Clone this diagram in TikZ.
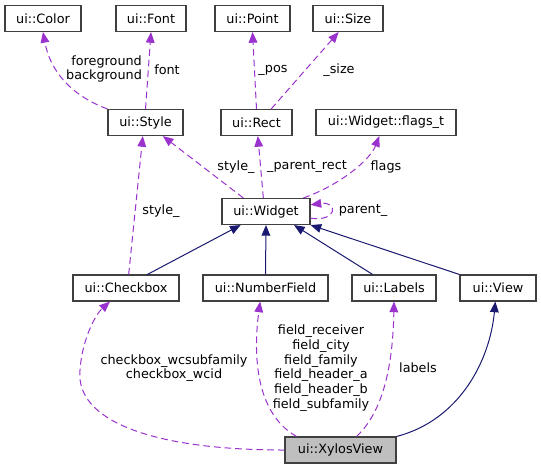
\documentclass[tikz,border=0pt]{standalone}
\usepackage{fontspec}
\setmainfont{DejaVu Sans}
\usetikzlibrary{arrows.meta}
\definecolor{usecol}{HTML}{9A32CD}
\definecolor{inhcol}{HTML}{191970}
\definecolor{boxcol}{HTML}{404040}
\definecolor{fillcol}{HTML}{BFBFBF}

\begin{document}
\begin{tikzpicture}[x=0.75pt, y=-0.75pt, font=\fontsize{9.6}{11}\selectfont,
    cls/.style={draw=boxcol, line width=0.8pt, minimum height=19.5pt, inner sep=0pt},
    uses/.style={usecol, line width=0.75pt, dash pattern=on 5pt off 3pt, -{Triangle[length=8pt, width=6.5pt]}},
    inh/.style={inhcol, line width=0.75pt, -{Triangle[length=8pt, width=6.5pt]}}]
                \useasboundingbox (0,0) rectangle (541,469);
                % classes
                \node[cls, minimum width=57pt] (Color) at (43,18.5) {ui::Color};
                \node[cls, minimum width=52.5pt] (Font) at (151,18.5) {ui::Font};
                \node[cls, minimum width=56.25pt] (Point) at (252.5,18.5) {ui::Point};
                \node[cls, minimum width=52.5pt] (Size) at (348,18.5) {ui::Size};
                \node[cls, minimum width=56.25pt] (Style) at (145.5,122.5) {ui::Style};
                \node[cls, minimum width=53.25pt] (Rect) at (256.5,122.5) {ui::Rect};
                \node[cls, minimum width=105pt] (Flags) at (386,122.5) {ui::Widget::flags\_t};
                \node[cls, minimum width=66pt] (Widget) at (266,211.5) {ui::Widget};
                \node[cls, minimum width=79.5pt] (Checkbox) at (126,288) {ui::Checkbox};
                \node[cls, minimum width=93.75pt] (NumberField) at (265.5,288) {ui::NumberField};
                \node[cls, minimum width=63pt] (Labels) at (394,288) {ui::Labels};
                \node[cls, minimum width=57pt] (View) at (498,288) {ui::View};
                \node[cls, fill=fillcol, minimum width=83.25pt] (XylosView) at (340.5,450) {ui::XylosView};

                % member labels
                \node[align=right] (lblColor) at (104,69) {foreground\\background};
                \node (lblFont) at (167,70) {font};
                \node (lblPos) at (273,70) {\_pos};
                \node (lblSize) at (339,70) {\_size};
                \node (lblStyleW) at (236,167) {style\_};
                \node (lblRect) at (307,167) {\_parent\_rect};
                \node (lblFlags) at (386,167) {flags};
                \node (lblParent) at (363,211) {parent\_};
                \node (lblStyleC) at (161,211) {style\_};
                \node[align=center] (lblCheck) at (174,368) {checkbox\_wcsubfamily\\checkbox\_wcid};
                \node[align=center] (lblFields) at (321,368) {field\_receiver\\field\_city\\field\_family\\field\_header\_a\\field\_header\_b\\field\_subfamily};
                \node (lblLabels) at (418,368) {labels};

                % usage
                \draw[uses] (Style.north west) .. controls (70,95) and (50,70) .. (Color.south);
                \draw[uses] (Style.north) -- (Font.south);
                \draw[uses] (Rect.north) -- (Point.south);
                \draw[uses] ([xshift=11pt]Rect.north) -- ([xshift=-7pt]Size.south);
                \draw[uses] ([xshift=-17pt]Widget.north) -- ([xshift=13pt]Style.south);
                \draw[uses] ([xshift=-2pt]Widget.north) -- ([xshift=1pt]Rect.south);
                \draw[uses] ([xshift=28pt]Widget.north) .. controls (340,185) and (370,160) .. ([xshift=-5pt]Flags.south);
                \draw[uses] ([yshift=-5pt]Widget.east) .. controls (338,222) and (338,201) .. ([yshift=5pt]Widget.east);
                \draw[uses] ([xshift=2pt]Checkbox.north) -- ([xshift=-2pt]Style.south);
                \draw[uses] (XylosView.west) .. controls (150,450) and (75,420) .. (80,370) .. controls (82,340) and (95,315) .. ([xshift=-12pt]Checkbox.south);
                \draw[uses] ([xshift=-33pt]XylosView.north) .. controls (250,410) and (255,340) .. ([xshift=-4pt]NumberField.south);
                \draw[uses] ([xshift=12pt]XylosView.north) .. controls (385,410) and (393,360) .. (Labels.south);

                % inheritance
                \draw[inh] ([xshift=16pt]Checkbox.north) -- ([xshift=-19pt]Widget.south);
                \draw[inh] (NumberField.north) -- (Widget.south);
                \draw[inh] ([xshift=-16pt]Labels.north) -- ([xshift=21pt]Widget.south);
                \draw[inh] (View.north west) -- (Widget.south east);
                \draw[inh] (XylosView.north east) .. controls (460,420) and (490,360) .. ([xshift=-2pt]View.south);
            \end{tikzpicture}
\end{document}
